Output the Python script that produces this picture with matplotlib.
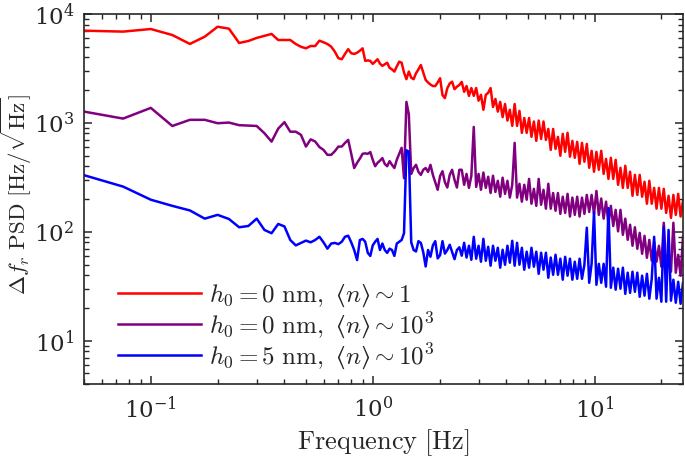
import numpy as np
import matplotlib
matplotlib.use("Agg")
import matplotlib.pyplot as plt

# ---- frequency grid [Hz] ----
freq_low = np.arange(2, 40) * 0.025          # 0.05 ... 0.975 Hz (resolved points)
freq_high = np.geomspace(1.0, 25.0, 130)     # 1 ... 25 Hz (dense part)

# ---- PSD values ----
red_low = [7030, 6890, 7280, 6410, 5310, 6190, 7640, 7330, 5420, 5650,
           6030, 6300, 6560, 5770, 5770, 5770, 5300, 5000, 4840, 5080,
           5080, 5690, 5500, 5300, 5010, 4500, 3930, 3840, 4300, 4750,
           4360, 4300, 4410, 4600, 4840, 3710, 3750, 3710]
red_high = [3480, 3650, 3840, 3500, 3340, 3450, 3570, 3200, 3100, 2960,
            3300, 3650, 3570, 2900, 2520, 2960, 2600, 2520, 2860, 3100,
            3400, 2900, 2480, 2350, 2250, 2180, 2180, 2350, 2570, 1800,
            1690, 2080, 2300, 2390, 2040, 2150, 2230, 2380, 1930, 2180,
            1770, 2090, 1770, 2090, 1600, 1810, 1320, 1810, 1890, 2090,
            1400, 1660, 1270, 1560, 1130, 1490, 1050, 1320, 939, 1490,
            939, 1290, 810, 1110, 810, 1110, 744, 1030, 684, 1050,
            713, 1030, 698, 880, 565, 880, 577, 744, 499, 793,
            542, 810, 489, 684, 478, 670, 421, 655, 440, 641,
            387, 554, 356, 542, 371, 554, 340, 467, 306, 478,
            306, 458, 270, 387, 253, 404, 253, 356, 214, 333,
            218, 333, 210, 288, 181, 294, 181, 253, 163, 253,
            163, 248, 149, 214, 134, 218, 143, 223, 138, 193]

purple_low = [1270, 1095, 1373, 937, 1067, 1067, 993, 1007, 953, 945,
              937, 803, 673, 886, 1015, 830, 830, 776, 606, 706,
              675, 600, 565, 509, 509, 550, 606, 606, 655, 698,
              520, 385, 430, 470, 520, 525, 520, 540]
purple_high = [458, 400, 430, 450, 475, 420, 400, 445, 412, 385,
               458, 520, 590, 310, 1560, 1200, 340, 385, 412, 355,
               333, 371, 385, 355, 412, 333, 285, 243, 325, 360,
               285, 255, 333, 371, 300, 255, 371, 371, 270, 340,
               253, 327, 918, 258, 340, 243, 350, 253, 320, 227,
               327, 232, 294, 210, 314, 223, 294, 206, 270, 656,
               206, 276, 189, 270, 197, 306, 181, 248, 173, 306,
               177, 243, 163, 276, 163, 227, 156, 227, 146, 210,
               149, 223, 138, 206, 143, 210, 138, 206, 146, 218,
               152, 218, 146, 237, 143, 202, 132, 189, 119, 173,
               113, 159, 101, 159, 93.8, 132, 84.4, 116, 74.4, 110,
               69.8, 97.8, 62.8, 91.8, 57.7, 84.4, 54.2, 81.0, 53.1, 74.4,
               47.8, 121, 46.8, 65.6, 43.0, 121, 42.1, 61.5, 39.5, 89.9]

blue_low = [331, 260, 197, 173, 157, 132, 143, 131, 110, 113,
            132, 104, 97, 118, 112, 84, 75, 79, 83, 80,
            84, 90, 80, 70, 78, 79, 77, 81, 90, 92,
            80, 68, 55, 84, 86, 81, 64, 60]
blue_high = [75, 81, 86, 68, 78, 68, 64, 70, 68, 60,
             78, 81, 84, 97, 560, 545, 80, 68, 66, 82,
             79, 65, 48, 68, 59, 75, 82, 57, 61, 82,
             63, 68, 76, 65, 56, 68, 72, 60.3, 79.2, 58.0,
             74.4, 55.3, 89.9, 56.6, 74.4, 53.1, 86.2, 54.2, 72.8, 48.8,
             74.4, 54.2, 71.3, 46.8, 68.4, 49.8, 74.4, 52.0, 82.6, 48.8,
             79.2, 49.8, 71.3, 44.8, 65.6, 46.8, 71.3, 47.8, 65.6, 41.1,
             64.2, 44.8, 64.2, 37.8, 58.0, 40.3, 61.5, 40.3, 56.6, 36.3,
             58.9, 39.5, 56.6, 36.3, 53.1, 37.0, 56.6, 37.0, 49.8, 109,
             34.0, 50.8, 152, 32.6, 50.8, 34.0, 50.8, 31.3, 165, 30.6,
             46.8, 29.4, 45.8, 30.0, 46.8, 26.9, 42.1, 27.5, 43.0, 28.1,
             42.1, 25.3, 39.5, 25.9, 41.1, 24.3, 37.0, 89.9, 24.3, 37.8,
             22.8, 111, 22.8, 104, 23.3, 36.3, 22.3, 34.7, 21.8, 34.0]

labels = [r'$h_0 = 0\ \mathrm{nm},\ ⟨n⟩ \sim 1$',
          r'$h_0 = 0\ \mathrm{nm},\ ⟨n⟩ \sim 10^3$',
          r'$h_0 = 5\ \mathrm{nm},\ ⟨n⟩ \sim 10^3$']
colors = ['#FF0000', '#800080', '#0000FF']

plt.rcParams['mathtext.fontset'] = 'cm'
plt.rcParams['font.family'] = 'serif'
plt.rcParams['axes.formatter.use_mathtext'] = True

freq = np.concatenate([freq_low, freq_high])
series = [np.array(red_low + red_high, dtype=float),
          np.array(purple_low + purple_high, dtype=float),
          np.array(blue_low + blue_high, dtype=float)]

fig = plt.figure(figsize=(6.85, 4.58), dpi=100)
ax = fig.add_axes([84 / 685, 74 / 458, 599 / 685, 370 / 458])

for y, c, lab in zip(series, colors, labels):
    ax.plot(freq, y, color=c, lw=1.8, label=lab, solid_joinstyle='round')

ax.set_xscale('log')
ax.set_yscale('log')
ax.set_xlim(0.05, 25)
ax.set_ylim(4, 1e4)

dark = '#262626'
for s in ax.spines.values():
    s.set_color(dark)
    s.set_linewidth(1.2)
ax.tick_params(which='both', direction='in', top=True, right=True,
               color=dark, labelcolor=dark, labelsize=16.5)
ax.tick_params(which='major', length=6, width=1.1)
ax.tick_params(which='minor', length=3.5, width=1.0)
ax.tick_params(axis='x', which='major', pad=9)
ax.tick_params(axis='y', which='major', pad=7)

ax.set_xlabel(r'$\mathrm{Frequency\ [Hz]}$', fontsize=19, color=dark)
ax.xaxis.set_label_coords(0.5, -0.118)
fig.text(16 / 685, 1 - 195 / 458,
         r'$\Delta f_r\ \mathrm{PSD}\ [\mathrm{Hz}/\sqrt{\mathrm{Hz}}]$',
         rotation=90, ha='center', va='center', fontsize=16.5, color=dark)

leg = ax.legend(loc='lower left', bbox_to_anchor=(0.056, 0.034), frameon=False,
                fontsize=18, handlelength=3.35, handletextpad=0.32,
                labelspacing=0.05, borderpad=0, borderaxespad=0)
for t in leg.get_texts():
    t.set_color(dark)

fig.savefig('out.png', dpi=100)
